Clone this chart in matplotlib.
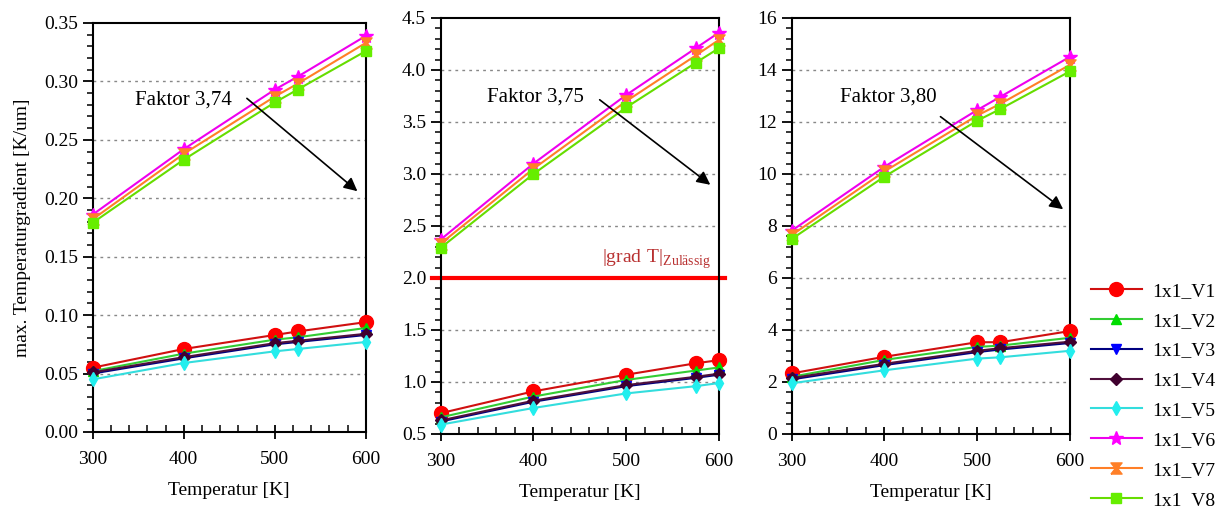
import numpy as np
import matplotlib
matplotlib.use("Agg")
import matplotlib.pyplot as plt
from matplotlib.ticker import MultipleLocator

plt.rcParams['font.family'] = ['Liberation Serif', 'DejaVu Serif']
plt.rcParams['mathtext.fontset'] = 'custom'
plt.rcParams['mathtext.rm'] = 'Liberation Serif'

# x positions of each panel
x_a = [300, 400, 500, 525, 600]
x_b = [300, 400, 500, 575, 600]
x_c = [300, 400, 500, 525, 600]

labels = ['1x1_V1', '1x1_V2', '1x1_V3', '1x1_V4', '1x1_V5', '1x1_V6', '1x1_V7', '1x1_V8']

# panel 1 values
a_v1 = [0.055, 0.071, 0.083, 0.086, 0.094]
a_v2 = [0.052, 0.067, 0.079, 0.081, 0.089]
a_v3 = [0.050, 0.063, 0.075, 0.077, 0.083]
a_v4 = [0.051, 0.064, 0.076, 0.078, 0.084]
a_v5 = [0.045, 0.059, 0.069, 0.071, 0.077]
a_v6 = [0.186, 0.242, 0.293, 0.304, 0.339]
a_v7 = [0.182, 0.238, 0.287, 0.298, 0.333]
a_v8 = [0.179, 0.233, 0.282, 0.293, 0.326]

# panel 2 values
b_v1 = [0.70, 0.91, 1.07, 1.18, 1.21]
b_v2 = [0.66, 0.86, 1.02, 1.11, 1.14]
b_v3 = [0.62, 0.81, 0.96, 1.04, 1.07]
b_v4 = [0.63, 0.82, 0.97, 1.05, 1.08]
b_v5 = [0.59, 0.75, 0.89, 0.96, 0.99]
b_v6 = [2.37, 3.10, 3.76, 4.21, 4.36]
b_v7 = [2.33, 3.05, 3.70, 4.14, 4.29]
b_v8 = [2.29, 3.00, 3.64, 4.07, 4.21]

# panel 3 values
c_v1 = [2.33, 2.97, 3.53, 3.53, 3.96]
c_v2 = [2.20, 2.85, 3.35, 3.40, 3.70]
c_v3 = [2.10, 2.65, 3.15, 3.25, 3.50]
c_v4 = [2.15, 2.70, 3.20, 3.30, 3.55]
c_v5 = [1.95, 2.45, 2.90, 2.95, 3.20]
c_v6 = [7.82, 10.28, 12.46, 12.97, 14.51]
c_v7 = [7.65, 10.10, 12.25, 12.70, 14.20]
c_v8 = [7.50, 9.90, 12.05, 12.50, 13.95]

grad_limit = 2.0
faktor = ['Faktor 3,74', 'Faktor 3,75', 'Faktor 3,80']

hourglass = [(-1, -1), (1, -1), (0.2, 0), (1, 1), (-1, 1), (-0.2, 0), (-1, -1)]
styles = [
    dict(color='#D01010', marker='o', mfc='#FF0000', mec='#FF0000', ms=10),
    dict(color='#33CC33', marker='^', mfc='#00DD00', mec='#00DD00', ms=7),
    dict(color='#000080', marker='v', mfc='#0000FF', mec='#0000FF', ms=7),
    dict(color='#50103C', marker='D', mfc='#40002E', mec='#40002E', ms=6),
    dict(color='#33DDDD', marker='d', mfc='#22EEEE', mec='#22EEEE', ms=7),
    dict(color='#EE00EE', marker='*', mfc='#FF00FF', mec='#FF00FF', ms=10),
    dict(color='#FF7F27', marker=hourglass, mfc='#FF7F27', mec='#FF7F27', ms=8),
    dict(color='#66DD00', marker='s', mfc='#66EE00', mec='#66EE00', ms=7),
]

fig = plt.figure(figsize=(12.32, 5.07), dpi=100)
ax1 = fig.add_axes([0.0752, 0.148, 0.2218, 0.8067])
ax2 = fig.add_axes([0.3577, 0.144, 0.2259, 0.8205])
ax3 = fig.add_axes([0.6426, 0.144, 0.2259, 0.8205])

panels = [
    (ax1, x_a, [a_v1, a_v2, a_v3, a_v4, a_v5, a_v6, a_v7, a_v8], (0, 0.35), 0.05, 0.01, '{:.2f}'),
    (ax2, x_b, [b_v1, b_v2, b_v3, b_v4, b_v5, b_v6, b_v7, b_v8], (0.5, 4.5), 0.5, 0.1, '{:.1f}'),
    (ax3, x_c, [c_v1, c_v2, c_v3, c_v4, c_v5, c_v6, c_v7, c_v8], (0, 16), 2, 0.4, '{:.0f}'),
]

handles = []
for ax, xs, series, ylim, major, minor, fmt in panels:
    for i, ys in enumerate(series):
        ln, = ax.plot(xs, ys, lw=1.5, label=labels[i], clip_on=False, zorder=3, **styles[i])
        if ax is ax1:
            handles.append(ln)
    ax.set_xlim(300, 600)
    ax.set_ylim(*ylim)
    ax.xaxis.set_major_locator(MultipleLocator(100))
    ax.xaxis.set_minor_locator(MultipleLocator(20))
    ax.yaxis.set_major_locator(MultipleLocator(major))
    ax.yaxis.set_minor_locator(MultipleLocator(minor))
    ax.set_yticks(ax.get_yticks())
    ax.set_yticklabels([fmt.format(v) for v in ax.get_yticks()])
    ax.set_ylim(*ylim)
    ax.tick_params(axis='x', which='major', direction='inout', length=10, width=1.3, labelsize=14, pad=9)
    ax.tick_params(axis='x', which='minor', direction='in', length=5, width=1.1)
    ax.tick_params(axis='y', which='major', direction='out', length=7, width=1.3, labelsize=14)
    ax.tick_params(axis='y', which='minor', direction='out', length=4, width=1.1)
    for s in ax.spines.values():
        s.set_linewidth(1.5)
    for t in ax.get_yticks():
        if ylim[0] < t < ylim[1]:
            ax.axhline(t, color='#888888', ls=(0, (2, 3)), lw=1.0, zorder=1)
    ax.set_xlabel('Temperatur [K]', fontsize=14, labelpad=10)

ax1.set_ylabel('max. Temperaturgradient [K/um]', fontsize=14, labelpad=9)

# annotations
ax1.text(346, 0.284, faktor[0], fontsize=15, va='center')
ax1.annotate('', xy=(593, 0.2045), xytext=(467, 0.287),
             arrowprops=dict(arrowstyle='-|>', color='black', lw=1.2, mutation_scale=20))
ax2.text(350, 3.74, faktor[1], fontsize=15, va='center')
ax2.annotate('', xy=(593, 2.88), xytext=(469, 3.73),
             arrowprops=dict(arrowstyle='-|>', color='black', lw=1.2, mutation_scale=20))
ax3.text(352, 12.96, faktor[2], fontsize=15, va='center')
ax3.annotate('', xy=(595, 8.58), xytext=(458, 12.27),
             arrowprops=dict(arrowstyle='-|>', color='black', lw=1.2, mutation_scale=20))

ax2.axhline(grad_limit, xmin=-0.03, xmax=1.02, color='#FF0000', lw=3, clip_on=False, zorder=2)
ax2.text(474, 2.15, r'$\mathrm{|grad\ T|}_{\mathrm{Zulässig}}$', color='#B83030', fontsize=14)

fig.legend(handles=handles, loc='upper left', bbox_to_anchor=(0.8715, 0.478),
           frameon=False, fontsize=14, handlelength=2.6, labelspacing=0.63,
           handletextpad=0.55)

fig.savefig('out.png', dpi=100)
